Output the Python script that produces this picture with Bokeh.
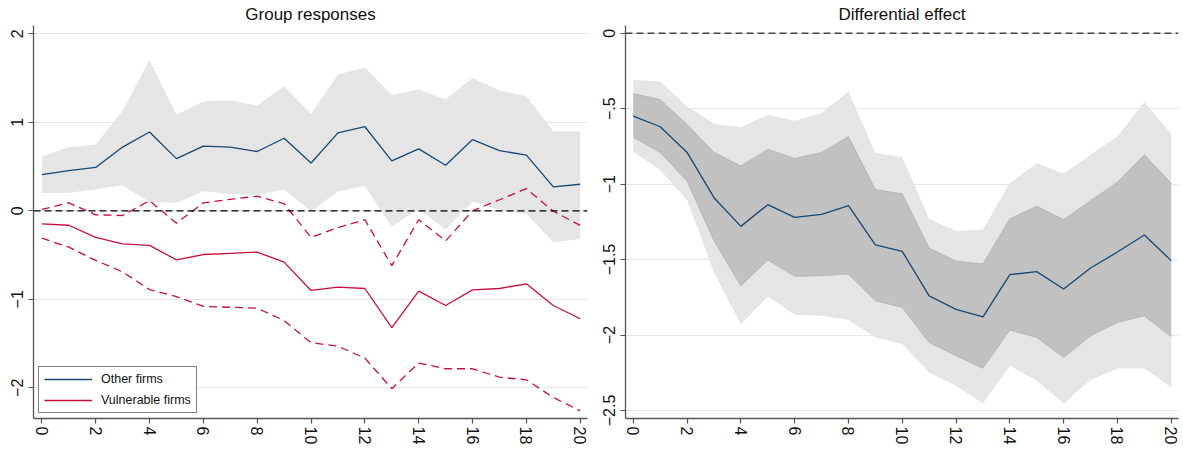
from bokeh.plotting import figure
from bokeh.layouts import row
from bokeh.models import FixedTicker, Span, Legend, LegendItem, Range1d
from bokeh.embed import file_html
from bokeh.resources import INLINE

horizon = list(range(21))

other_est = [0.41, 0.455, 0.49, 0.72, 0.89, 0.59, 0.73, 0.72, 0.67, 0.82, 0.54,
             0.88, 0.95, 0.565, 0.70, 0.515, 0.805, 0.68, 0.63, 0.27, 0.30]
other_hi = [0.61, 0.72, 0.75, 1.13, 1.70, 1.085, 1.235, 1.25, 1.19, 1.41, 1.095,
            1.54, 1.62, 1.31, 1.37, 1.26, 1.50, 1.36, 1.295, 0.90, 0.90]
other_lo = [0.20, 0.205, 0.24, 0.29, 0.10, 0.09, 0.22, 0.19, 0.18, 0.24, -0.005,
            0.22, 0.28, -0.18, 0.02, -0.21, 0.105, 0.01, -0.035, -0.355, -0.32]

vuln_hi = [0.015, 0.09, -0.045, -0.053, 0.115, -0.14, 0.09, 0.13, 0.165, 0.08, -0.30,
           -0.19, -0.10, -0.62, -0.10, -0.34, 0.00, 0.125, 0.25, -0.005, -0.165]
vuln_est = [-0.147, -0.163, -0.30, -0.373, -0.39, -0.554, -0.494, -0.48, -0.467, -0.58, -0.90,
            -0.863, -0.878, -1.32, -0.908, -1.07, -0.893, -0.878, -0.825, -1.07, -1.22]
vuln_lo = [-0.31, -0.41, -0.56, -0.69, -0.89, -0.97, -1.08, -1.09, -1.10, -1.24, -1.49,
           -1.53, -1.665, -2.01, -1.72, -1.785, -1.785, -1.88, -1.91, -2.11, -2.26]

diff_est = [-0.55, -0.62, -0.79, -1.09, -1.28, -1.136, -1.22, -1.20, -1.143, -1.403, -1.446,
            -1.74, -1.83, -1.88, -1.60, -1.58, -1.695, -1.556, -1.45, -1.337, -1.507]
diff_hi_inner = [-0.40, -0.44, -0.605, -0.79, -0.88, -0.77, -0.83, -0.79, -0.685, -1.036, -1.065,
                 -1.425, -1.51, -1.53, -1.23, -1.147, -1.235, -1.11, -0.988, -0.806, -0.995]
diff_lo_inner = [-0.69, -0.79, -0.98, -1.375, -1.673, -1.503, -1.611, -1.607, -1.596, -1.773, -1.817,
                 -2.05, -2.137, -2.22, -1.967, -2.016, -2.149, -2.005, -1.916, -1.872, -2.011]
diff_hi_outer = [-0.31, -0.32, -0.486, -0.60, -0.623, -0.54, -0.58, -0.528, -0.387, -0.793, -0.822,
                 -1.23, -1.31, -1.30, -0.995, -0.86, -0.932, -0.804, -0.685, -0.457, -0.667]
diff_lo_outer = [-0.785, -0.906, -1.105, -1.585, -1.93, -1.744, -1.865, -1.872, -1.899, -2.016, -2.06,
                 -2.248, -2.336, -2.454, -2.204, -2.303, -2.454, -2.298, -2.222, -2.222, -2.347]

x_ticks = list(range(0, 21, 2))
left_y_ticks = [-2, -1, 0, 1, 2]
left_y_labels = {-2: "\u22122", -1: "\u22121", 0: "0", 1: "1", 2: "2"}
right_y_ticks = [-2.5, -2, -1.5, -1, -0.5, 0]
right_y_labels = {-2.5: "\u22122.5", -2: "\u22122", -1.5: "\u22121.5", -1: "\u22121", -0.5: "\u2212.5", 0: "0"}

BLUE = "#1a476f"
RED = "#c8103c"
FONT = "Liberation Sans"


def style(p, yticks, ylabels):
    p.title.text_font = FONT
    p.title.text_font_size = "17px"
    p.title.text_font_style = "normal"
    p.title.align = "center"
    p.title.text_color = "#111111"
    p.title.standoff = 3
    p.title.offset = 0
    for ax in (p.xaxis, p.yaxis):
        ax.major_label_text_font = FONT
        ax.major_label_text_font_size = "16px"
        ax.major_label_text_color = "#111111"
        ax.axis_line_color = "#555555"
        ax.axis_line_width = 1.3
        ax.major_tick_line_color = "#555555"
        ax.major_tick_line_width = 1.2
        ax.major_tick_out = 5
        ax.major_tick_in = 0
        ax.minor_tick_line_color = None
        ax.major_label_orientation = "vertical"
    p.xaxis.ticker = FixedTicker(ticks=x_ticks)
    p.yaxis.ticker = FixedTicker(ticks=yticks)
    p.yaxis.major_label_overrides = ylabels
    p.xaxis.major_label_standoff = 3
    p.yaxis.major_label_standoff = 5
    p.xgrid.grid_line_color = None
    p.ygrid.grid_line_color = "#e6e6e6"
    p.ygrid.grid_line_width = 1.2
    p.outline_line_color = None
    p.background_fill_color = "white"
    p.border_fill_color = "white"


p1 = figure(width=600, height=450, output_backend="svg", toolbar_location=None,
            x_range=Range1d(-0.31, 20.27), y_range=Range1d(-2.347, 2.094),
            title="Group responses",
            min_border_left=33, min_border_right=13, min_border_top=25, min_border_bottom=32)
style(p1, left_y_ticks, left_y_labels)

p1.varea(x=horizon, y1=other_lo, y2=other_hi, fill_color="#e5e5e5", fill_alpha=1.0)
p1.add_layout(Span(location=0, dimension="width", line_color="black", line_width=1.3,
                   line_dash="7 4"))
r_other = p1.line(horizon, other_est, line_color=BLUE, line_width=1.3)
r_vuln = p1.line(horizon, vuln_est, line_color=RED, line_width=1.3)
p1.line(horizon, vuln_hi, line_color=RED, line_width=1.3, line_dash="8 5")
p1.line(horizon, vuln_lo, line_color=RED, line_width=1.3, line_dash="8 5")

legend = Legend(items=[LegendItem(label="Other firms", renderers=[r_other]),
                       LegendItem(label="Vulnerable firms", renderers=[r_vuln])],
                location=(5, 5))
legend.margin = 0
legend.padding = 5
legend.spacing = 7
legend.glyph_width = 48
legend.glyph_height = 12
legend.label_height = 12
legend.label_standoff = 9
legend.label_text_font = FONT
legend.label_text_font_size = "12.5px"
legend.label_text_color = "#111111"
legend.border_line_color = "black"
legend.border_line_width = 1.2
legend.background_fill_color = "white"
legend.background_fill_alpha = 1.0
p1.add_layout(legend)

p2 = figure(width=583, height=450, output_backend="svg", toolbar_location=None,
            x_range=Range1d(-0.29, 20.27), y_range=Range1d(-2.553, 0.051),
            title="Differential effect",
            min_border_left=25, min_border_right=5, min_border_top=25, min_border_bottom=32)
style(p2, right_y_ticks, right_y_labels)

p2.varea(x=horizon, y1=diff_lo_outer, y2=diff_hi_outer, fill_color="#e5e5e5", fill_alpha=1.0)
p2.varea(x=horizon, y1=diff_lo_inner, y2=diff_hi_inner, fill_color="#c1c1c1", fill_alpha=1.0)
p2.line(horizon, diff_hi_inner, line_color="#b0b0b0", line_width=0.8)
p2.line(horizon, diff_lo_inner, line_color="#b0b0b0", line_width=0.8)
p2.add_layout(Span(location=0, dimension="width", line_color="#444444", line_width=1.5,
                   line_dash="7 4"))
p2.line(horizon, diff_est, line_color=BLUE, line_width=1.3)

layout = row(p1, p2)
open("out.html", "w").write(file_html(layout, INLINE))
